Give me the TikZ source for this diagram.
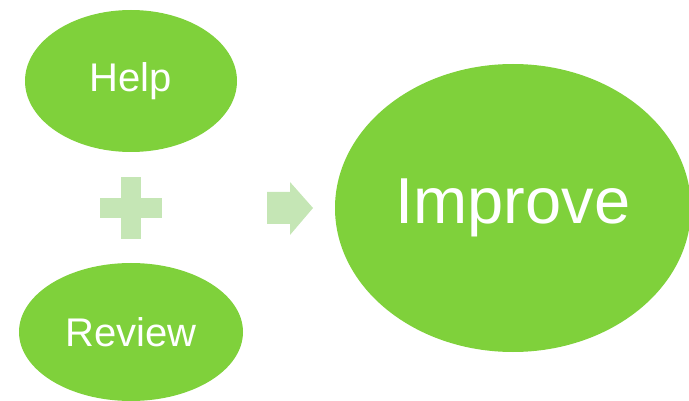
\documentclass[tikz,border=0pt]{standalone}
\usepackage{fontspec}
\setmainfont{Liberation Sans}
\usepackage{tikz}
\usetikzlibrary{shapes}
\definecolor{leafgreen}{HTML}{7FD13B}
\definecolor{palegreen}{HTML}{C5E6B5}
\tikzset{my green blob/.style={
  ellipse,
  fill=leafgreen,
  text=white,
  inner sep=0pt
  }
}
\tikzset{my pale sign/.style={
  fill=palegreen,
  draw=none
  }
}

\begin{document}
\begin{tikzpicture}[x=1pt,y=-1pt]
    \useasboundingbox (0,0) rectangle (689,401);

    \node[my green blob,minimum width=212pt,minimum height=142pt,font=\fontsize{40}{48}\selectfont] (help) at (131,81) {Help};
    \node[my green blob,minimum width=224pt,minimum height=138pt,font=\fontsize{40}{48}\selectfont] (review) at (131,332) {Review};
    \node[my green blob,minimum width=356pt,minimum height=288pt,font=\fontsize{65}{78}\selectfont] (improve) at (513,208) {Improve};

    % plus sign
    \fill[my pale sign] (121,177) rectangle (141,239);
    \fill[my pale sign] (100,198) rectangle (162,218);

    % arrow
    \fill[my pale sign] (267,192) -- (290,192) -- (290,182) -- (313,208) -- (290,235) -- (290,224) -- (267,224) -- cycle;
\end{tikzpicture}
\end{document}
